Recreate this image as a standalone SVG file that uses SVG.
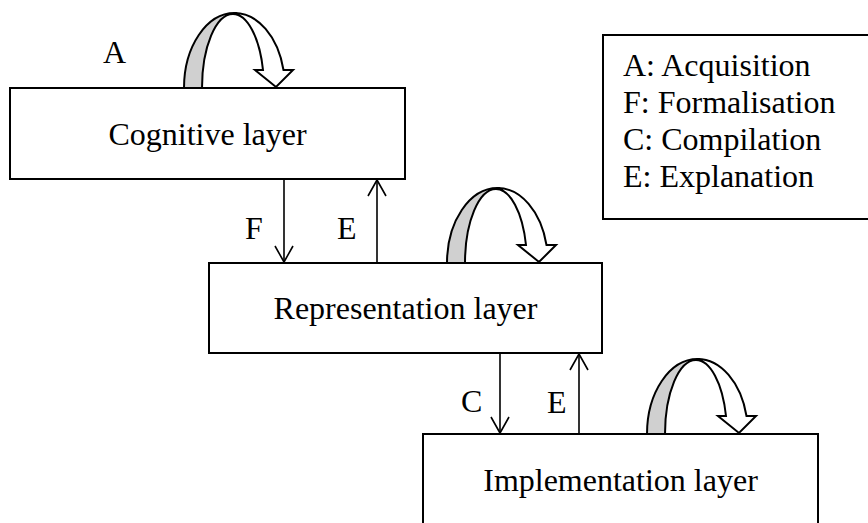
<svg xmlns="http://www.w3.org/2000/svg" xmlns:xlink="http://www.w3.org/1999/xlink" width="868" height="523" viewBox="0 0 868 523">
  <style>
    .box { fill: #ffffff; stroke: #000000; stroke-width: 2; }
    .label { font-family: "Liberation Serif", "Times New Roman", serif; font-size: 32px; fill: #000000; }
    .mid { text-anchor: middle; }
    .link { fill: none; stroke: #000000; stroke-width: 1.6; marker-end: url(#open-head); }
    .loop-front { fill: #ffffff; stroke: #000000; stroke-width: 2; stroke-linejoin: miter; }
    .loop-back { fill: #d0d0d0; stroke: #000000; stroke-width: 2; stroke-linejoin: miter; }
  </style>
  <defs>
    <marker id="open-head" viewBox="-18 -11 20 22" refX="0" refY="0" markerWidth="20" markerHeight="22" markerUnits="userSpaceOnUse" orient="auto">
      <path d="M-16,-9 L0,0 L-16,9" fill="none" stroke="#000000" stroke-width="1.6"/>
    </marker>
    <!-- curved self-loop arrow, base line at y=0, left foot at x=0 -->
    <g id="self-loop">
      <path class="loop-front" d="M50.5,-75 A50.5,75 0 0 1 99.5,-18 L109,-18 L92,-1 L71,-18 L79,-18 A31,74 0 0 0 49,-74 Z"/>
      <path class="loop-back" d="M0,0 A50.5,75 0 0 1 50.5,-75 L49,-74 A31,74 0 0 0 18,0 Z"/>
    </g>
  </defs>

  <!-- self loops on top of each layer -->
  <g id="loops">
    <use xlink:href="#self-loop" href="#self-loop" x="184" y="88"/>
    <use xlink:href="#self-loop" href="#self-loop" x="447" y="263"/>
    <use xlink:href="#self-loop" href="#self-loop" x="647" y="434"/>
  </g>

  <g id="cognitive">
    <rect class="box" x="10" y="88" width="395" height="91"/>
    <text class="label mid" x="207.5" y="145">Cognitive layer</text>
  </g>

  <g id="representation">
    <rect class="box" x="209" y="263" width="393" height="90"/>
    <text class="label mid" x="405.5" y="319">Representation layer</text>
  </g>

  <g id="implementation">
    <rect class="box" x="423" y="434" width="395" height="110"/>
    <text class="label mid" x="620.5" y="491">Implementation layer</text>
  </g>

  <g id="legend">
    <rect class="box" x="603" y="35" width="280" height="184"/>
    <text class="label" x="623" y="76">A: Acquisition</text>
    <text class="label" x="623" y="113">F: Formalisation</text>
    <text class="label" x="623" y="149.5">C: Compilation</text>
    <text class="label" x="623" y="186.5">E: Explanation</text>
  </g>

  <g id="connectors">
    <path class="link" d="M284,179 L284,262"/>
    <path class="link" d="M377,263 L377,180"/>
    <path class="link" d="M500,353 L500,433"/>
    <path class="link" d="M579,434 L579,354"/>
  </g>

  <g id="connector-labels">
    <text class="label" x="103" y="63">A</text>
    <text class="label" x="245" y="239">F</text>
    <text class="label" x="337" y="239">E</text>
    <text class="label" x="461" y="412">C</text>
    <text class="label" x="547" y="413">E</text>
  </g>
</svg>
